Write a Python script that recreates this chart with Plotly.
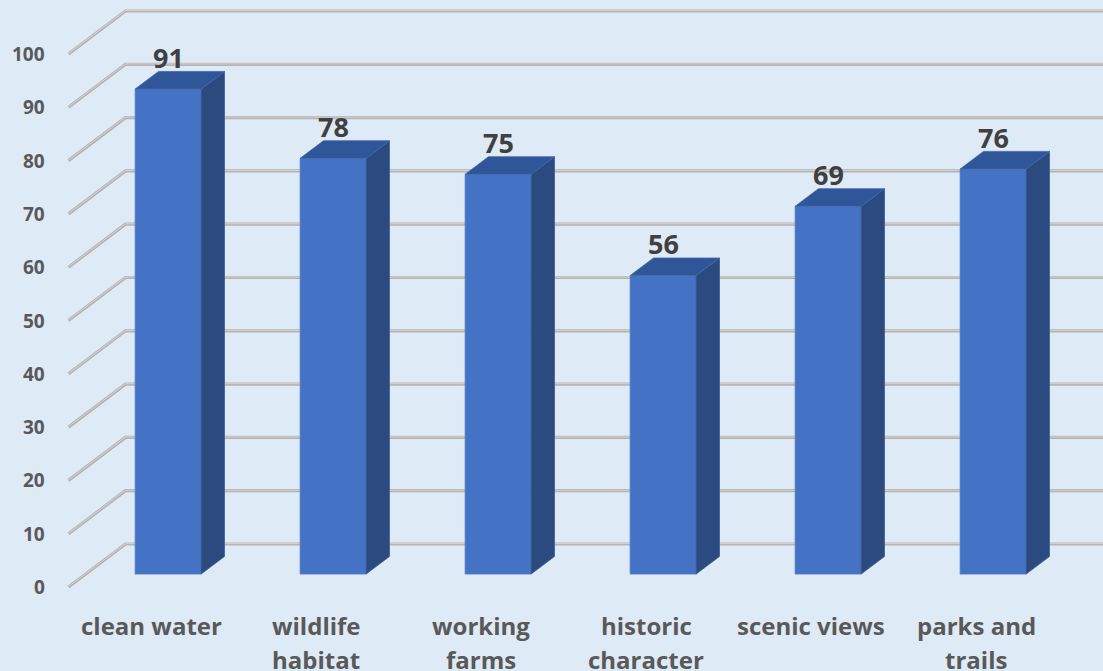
import plotly.graph_objects as go

# ---- data ----
categories = ["clean water", "wildlife<br>habitat", "working<br>farms",
              "historic<br>character", "scenic views", "parks and<br>trails"]
values = [91, 78, 75, 56, 69, 76]
y_ticks = [0, 10, 20, 30, 40, 50, 60, 70, 80, 90, 100]

# ---- geometry (in axis units) ----
W, H = 1103, 671
PX_X = 165.0        # px per category
PX_Y = 5.33         # px per value unit
X0_PX, Y0_PX = 151, 587
DX = 57 / PX_X      # full depth offset along x (categories)
DY = 43 / PX_Y      # full depth offset along y (value units)
F_FRONT, F_BACK = 0.30, 0.71
BAR_W = 66 / PX_X

x_range = [-X0_PX / PX_X, (W - X0_PX) / PX_X]
y_range = [(Y0_PX - H) / PX_Y, Y0_PX / PX_Y]

BG = "#DEEAF6"
FRONT = "#4472C4"
SIDE = "#2A4A80"
TOP = "#30569A"
FONT = "Open Sans, Lato, sans-serif"

fig = go.Figure()

# gridlines: diagonal on floor-side + horizontal on back wall
gx, gy = [], []
for v in y_ticks:
    gx += [-0.5, -0.5 + DX, x_range[1] + 1, None]
    gy += [v, v + DY, v + DY, None]
fig.add_trace(go.Scatter(x=gx, y=gy, mode="lines",
                         line=dict(color="#B3B3B3", width=3.2),
                         hoverinfo="skip", showlegend=False))
fig.add_trace(go.Scatter(x=gx, y=[None if g is None else g + 0.08 for g in gy], mode="lines",
                         line=dict(color="#D4D4D4", width=1),
                         hoverinfo="skip", showlegend=False))

# bars
fx, fy, sx, sy, tx, ty = [], [], [], [], [], []
for i, v in enumerate(values):
    xl = i + F_FRONT * DX - BAR_W / 2
    xr = xl + BAR_W
    yb = F_FRONT * DY
    yt = yb + v
    ddx = (F_BACK - F_FRONT) * DX
    ddy = (F_BACK - F_FRONT) * DY
    fx += [xl, xr, xr, xl, xl, None]
    fy += [yb, yb, yt, yt, yb, None]
    sx += [xr, xr + ddx, xr + ddx, xr, xr, None]
    sy += [yb, yb + ddy, yt + ddy, yt, yb, None]
    tx += [xl, xr, xr + ddx, xl + ddx, xl, None]
    ty += [yt, yt, yt + ddy, yt + ddy, yt, None]

for xs, ys, col, edge in [(fx, fy, FRONT, "#5B82C9"), (sx, sy, SIDE, "#3A5A92"), (tx, ty, TOP, "#4566A5")]:
    fig.add_trace(go.Scatter(x=xs, y=ys, mode="lines", fill="toself", fillcolor=col,
                             line=dict(color=edge, width=0.8),
                             hoverinfo="skip", showlegend=False))

annotations = []
# value labels
for i, v in enumerate(values):
    annotations.append(dict(x=i + F_FRONT * DX, y=v + F_BACK * DY,
                            xref="x", yref="y", text=f"<b>{v}</b>", showarrow=False,
                            xanchor="center", yanchor="middle", yshift=14,
                            font=dict(family=FONT, size=27, color="#404040")))
# y tick labels
for v in y_ticks:
    annotations.append(dict(x=-0.5, y=v, xref="x", yref="y", text=f"<b>{v}</b>",
                            showarrow=False, xanchor="right", yanchor="middle", xshift=-22,
                            font=dict(family=FONT, size=19, color="#595959")))
# category labels (each line placed separately for Office-like line spacing)
for i, c in enumerate(categories):
    for k, line in enumerate(c.split("<br>")):
        annotations.append(dict(x=i, y=0, xref="x", yref="y", text=f"<b>{line}</b>",
                                showarrow=False, xanchor="center", yanchor="middle",
                                yshift=-38 - 34 * k,
                                font=dict(family=FONT, size=24, color="#595959")))

fig.update_layout(
    width=W, height=H,
    margin=dict(l=0, r=0, t=0, b=0),
    paper_bgcolor=BG, plot_bgcolor=BG,
    xaxis=dict(range=x_range, visible=False, fixedrange=True),
    yaxis=dict(range=y_range, visible=False, fixedrange=True),
    annotations=annotations,
    showlegend=False,
)

fig.write_html("out.html", config={"displayModeBar": False},
               post_script="document.body.style.margin='0';document.body.style.padding='0';"
                           "document.body.style.background='#DEEAF6';document.body.style.overflow='hidden';")
